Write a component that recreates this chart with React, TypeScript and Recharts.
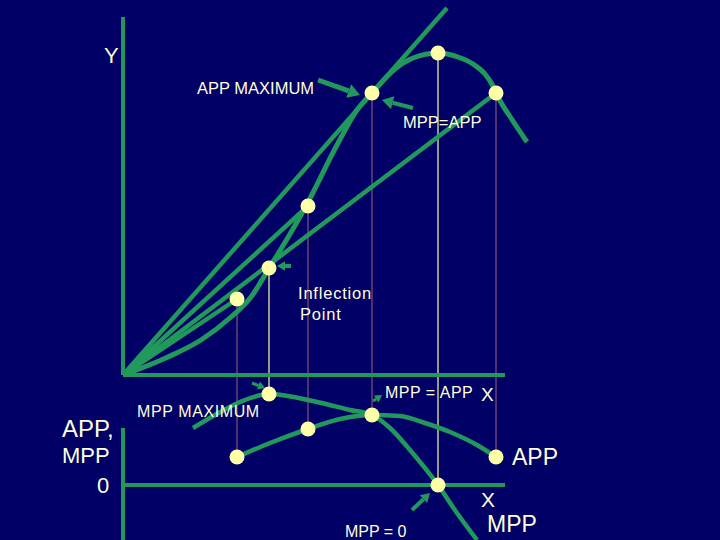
import React from "react";
import {
  ComposedChart,
  Line,
  Scatter,
  XAxis,
  YAxis,
  ReferenceLine,
} from "recharts";

// ---------- data (x = units of input, y = units of output) ----------
// Total physical product curve
const tppCurve = [
  { x: 0, y: 0 },
  { x: 4.5, y: 1.8 },
  { x: 7.8, y: 3.5 },
  { x: 10.8, y: 5.8 },
  { x: 12.8, y: 7.8 },
  { x: 14.5, y: 10.5 },
  { x: 16.7, y: 14.1 },
  { x: 18.3, y: 16.9 },
  { x: 21.4, y: 23.0 },
  { x: 23.4, y: 26.5 },
  { x: 24.9, y: 28.2 },
  { x: 27.2, y: 30.6 },
  { x: 29.0, y: 31.7 },
  { x: 31.5, y: 32.2 },
  { x: 33.5, y: 31.8 },
  { x: 35.0, y: 31.1 },
  { x: 36.2, y: 30.1 },
  { x: 37.0, y: 28.9 },
  { x: 37.6, y: 27.6 },
  { x: 38.6, y: 26.0 },
  { x: 40.4, y: 23.3 },
];

// highlighted points on the TPP panel
const tppPoints = [
  { x: 11.4, y: 7.6 },
  { x: 14.6, y: 10.7 },
  { x: 18.5, y: 16.9 },
  { x: 24.9, y: 28.2 },
  { x: 31.5, y: 32.2 },
  { x: 37.3, y: 28.2 },
];

// rays from the origin (end points)
const rayEnds = [
  { x: 32.4, y: 36.7 },
  { x: 18.5, y: 16.9 },
  { x: 37.3, y: 28.2 },
  { x: 11.4, y: 7.6 },
];

// Average physical product
const appCurve = [
  { x: 11.4, y: 2.8 },
  { x: 14.7, y: 4.2 },
  { x: 18.5, y: 5.6 },
  { x: 21.7, y: 6.6 },
  { x: 24.9, y: 7.0 },
  { x: 27.7, y: 6.9 },
  { x: 30.2, y: 6.2 },
  { x: 32.7, y: 5.3 },
  { x: 35.4, y: 4.0 },
  { x: 37.3, y: 2.8 },
];

// Marginal physical product
const mppCurve = [
  { x: 7.0, y: 5.7 },
  { x: 9.2, y: 7.0 },
  { x: 11.7, y: 8.3 },
  { x: 14.6, y: 9.1 },
  { x: 19.4, y: 8.3 },
  { x: 22.7, y: 7.5 },
  { x: 24.9, y: 7.0 },
  { x: 26.7, y: 5.7 },
  { x: 28.7, y: 3.5 },
  { x: 31.5, y: 0 },
  { x: 33.4, y: -2.8 },
  { x: 35.4, y: -5.5 },
];

// highlighted points on the APP/MPP panel (same x as tppPoints)
const lowerPoints = [
  { x: 11.4, y: 2.8 },
  { x: 14.6, y: 9.1 },
  { x: 18.5, y: 5.6 },
  { x: 24.9, y: 7.0 },
  { x: 31.5, y: 0 },
  { x: 37.3, y: 2.8 },
];
const dropIsYellow = [false, true, false, false, true, false];

// axis extents
const xAxisEnd = 38.2;
const tppAxisTop = 35.8;
const appAxisTop = 5.7;
const appAxisBottom = -5.5;

// ---------- styling ----------
const BG = "#000066";
const GREEN = "#22995c";
const DOT = "#ffffa8";
const TEXT = "#ffffdc";
const PURPLE = "#8a4f75";
const YELLOW = "#ffffa0";
const FONT = "'Liberation Sans', Arial, sans-serif";

const X_DOMAIN: [number, number] = [-12.3, 59.7];
const TPP_DOMAIN: [number, number] = [-16.5, 37.5];
const APP_DOMAIN: [number, number] = [-5.5, 48.5];
// pixel scales are identical (10px per unit) so app value -> tpp value offset
const APP_TO_TPP = TPP_DOMAIN[0] - APP_DOMAIN[0];

const arrowShape = (w: number, head: number) => (props: any) => {
  const { x1, y1, x2, y2 } = props;
  const dx = x2 - x1;
  const dy = y2 - y1;
  const len = Math.hypot(dx, dy) || 1;
  const ux = dx / len;
  const uy = dy / len;
  const bx = x2 - ux * head;
  const by = y2 - uy * head;
  const px = -uy;
  const py = ux;
  const hw = head * 0.6;
  return (
    <g>
      <line x1={x1} y1={y1} x2={bx} y2={by} stroke={GREEN} strokeWidth={w} />
      <polygon
        points={`${x2},${y2} ${bx + px * hw},${by + py * hw} ${bx - px * hw},${by - py * hw}`}
        fill={GREEN}
      />
    </g>
  );
};

const tppArrows = [
  { from: { x: 19.5, y: 29.5 }, to: { x: 23.7, y: 28.0 }, w: 5, head: 12 },
  { from: { x: 29.0, y: 26.7 }, to: { x: 25.9, y: 27.5 }, w: 4, head: 11 },
  { from: { x: 16.8, y: 10.9 }, to: { x: 15.4, y: 10.9 }, w: 4, head: 8 },
];
const appArrows = [
  { from: { x: 12.9, y: 10.2 }, to: { x: 14.2, y: 9.7 }, w: 3, head: 7 },
  { from: { x: 25.0, y: 8.4 }, to: { x: 25.9, y: 9.0 }, w: 3, head: 7 },
  { from: { x: 28.9, y: -2.5 }, to: { x: 30.7, y: -0.8 }, w: 4, head: 9 },
];

const dotShape = (props: any) => (
  <circle cx={props.cx} cy={props.cy} r={7.5} fill={DOT} />
);

type Lbl = { t: string; x: number; y: number; s: number; ls?: number };
const labels: Lbl[] = [
  { t: "Y", x: 104, y: 63, s: 22 },
  { t: "APP MAXIMUM", x: 197, y: 94, s: 16.5 },
  { t: "MPP=APP", x: 403, y: 128, s: 16.5 },
  { t: "Inflection", x: 298, y: 299, s: 16.5, ls: 0.8 },
  { t: "Point", x: 300, y: 320, s: 16.5, ls: 0.8 },
  { t: "MPP = APP", x: 385, y: 398, s: 16, ls: 0.5 },
  { t: "X", x: 481, y: 401, s: 19 },
  { t: "MPP MAXIMUM", x: 137, y: 417, s: 16, ls: 0.6 },
  { t: "APP,", x: 62, y: 437, s: 24 },
  { t: "MPP", x: 62, y: 463, s: 22 },
  { t: "0", x: 97, y: 493, s: 22 },
  { t: "APP", x: 512, y: 465, s: 23 },
  { t: "X", x: 481, y: 507, s: 21 },
  { t: "MPP", x: 487, y: 532, s: 23 },
  { t: "MPP = 0", x: 345, y: 537, s: 16 },
];

export default function App() {
  return (
    <div
      style={{
        position: "absolute",
        left: 0,
        top: 0,
        width: 720,
        height: 540,
        background: BG,
        overflow: "hidden",
      }}
    >
      <ComposedChart
        width={720}
        height={540}
        margin={{ top: 0, right: 0, bottom: 0, left: 0 }}
      >
        <XAxis
          type="number"
          dataKey="x"
          domain={X_DOMAIN}
          allowDataOverflow
          hide
        />
        <YAxis
          yAxisId="tpp"
          type="number"
          dataKey="y"
          domain={TPP_DOMAIN}
          allowDataOverflow
          hide
        />
        <YAxis
          yAxisId="app"
          type="number"
          dataKey="y"
          domain={APP_DOMAIN}
          allowDataOverflow
          hide
        />

        {/* drop lines */}
        {tppPoints.map((p, i) => (
          <ReferenceLine
            key={`drop${i}`}
            yAxisId="tpp"
            ifOverflow="visible"
            segment={[
              { x: p.x, y: p.y },
              { x: p.x, y: lowerPoints[i].y + APP_TO_TPP },
            ]}
            stroke={dropIsYellow[i] ? YELLOW : PURPLE}
            strokeWidth={1.2}
          />
        ))}

        {/* axes */}
        <ReferenceLine
          yAxisId="tpp"
          ifOverflow="visible"
          segment={[{ x: 0, y: 0 }, { x: 0, y: tppAxisTop }]}
          stroke={GREEN}
          strokeWidth={4}
        />
        <ReferenceLine
          yAxisId="tpp"
          ifOverflow="visible"
          segment={[{ x: 0, y: 0 }, { x: xAxisEnd, y: 0 }]}
          stroke={GREEN}
          strokeWidth={4}
        />
        <ReferenceLine
          yAxisId="app"
          ifOverflow="visible"
          segment={[{ x: 0, y: appAxisTop }, { x: 0, y: appAxisBottom }]}
          stroke={GREEN}
          strokeWidth={4}
        />
        <ReferenceLine
          yAxisId="app"
          ifOverflow="visible"
          segment={[{ x: 0, y: 0 }, { x: xAxisEnd, y: 0 }]}
          stroke={GREEN}
          strokeWidth={4}
        />

        {/* rays from origin */}
        {rayEnds.map((r, i) => (
          <Line
            key={`ray${i}`}
            yAxisId="tpp"
            data={[{ x: 0, y: 0 }, r]}
            dataKey="y"
            type="linear"
            stroke={GREEN}
            strokeWidth={4.5}
            dot={false}
            activeDot={false}
            isAnimationActive={false}
          />
        ))}

        <Line
          yAxisId="tpp"
          data={tppCurve}
          dataKey="y"
          type="monotone"
          stroke={GREEN}
          strokeWidth={5}
          dot={false}
          activeDot={false}
          isAnimationActive={false}
        />
        <Line
          yAxisId="app"
          data={appCurve}
          dataKey="y"
          type="monotone"
          stroke={GREEN}
          strokeWidth={4.5}
          dot={false}
          activeDot={false}
          isAnimationActive={false}
        />
        <Line
          yAxisId="app"
          data={mppCurve}
          dataKey="y"
          type="monotone"
          stroke={GREEN}
          strokeWidth={4.5}
          dot={false}
          activeDot={false}
          isAnimationActive={false}
        />

        {/* arrows */}
        {tppArrows.map((a, i) => (
          <ReferenceLine
            key={`ta${i}`}
            yAxisId="tpp"
            ifOverflow="visible"
            segment={[a.from, a.to]}
            shape={arrowShape(a.w, a.head)}
          />
        ))}
        {appArrows.map((a, i) => (
          <ReferenceLine
            key={`aa${i}`}
            yAxisId="app"
            ifOverflow="visible"
            segment={[a.from, a.to]}
            shape={arrowShape(a.w, a.head)}
          />
        ))}

        <Scatter
          yAxisId="tpp"
          data={tppPoints}
          dataKey="y"
          shape={dotShape}
          isAnimationActive={false}
        />
        <Scatter
          yAxisId="app"
          data={lowerPoints}
          dataKey="y"
          shape={dotShape}
          isAnimationActive={false}
        />
      </ComposedChart>

      <svg
        width={720}
        height={540}
        style={{ position: "absolute", left: 0, top: 0, pointerEvents: "none" }}
      >
        {labels.map((l, i) => (
          <text
            key={i}
            x={l.x}
            y={l.y}
            fontSize={l.s}
            fontFamily={FONT}
            fill={TEXT}
            letterSpacing={l.ls || 0}
          >
            {l.t}
          </text>
        ))}
      </svg>
    </div>
  );
}
